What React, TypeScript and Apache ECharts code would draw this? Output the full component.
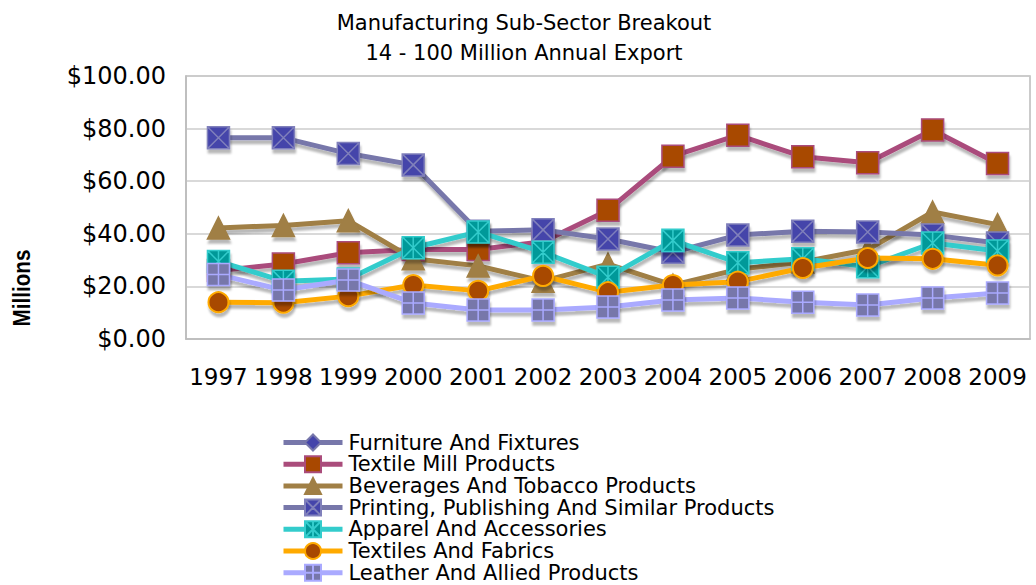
import React, { useEffect, useRef } from "react";
import * as echarts from "echarts";

const years = ["1997", "1998", "1999", "2000", "2001", "2002", "2003", "2004", "2005", "2006", "2007", "2008", "2009"];
const furniture: (number | null)[] = [null, null, null, null, null, null, null, null, null, null, null, null, null];
const textileMill = [26, 28.5, 32.8, 34, 34, 37, 49, 69.5, 77.5, 69.3, 67, 79.5, 66.7];
const beverages = [42.2, 43.2, 45, 30.5, 27.8, 22, 28.5, 20.5, 26.5, 29.3, 34, 48.3, 43.5];
const printing = [76.5, 76.5, 70.5, 66.2, 41, 41.5, 38, 33, 39.5, 41, 40.7, 39.5, 36.5];
const apparel = [29.5, 22, 22.8, 34.7, 40.7, 33, 23.5, 37.5, 29, 30.5, 27.5, 36.5, 33.5];
const textiles = [14, 13.8, 16.3, 20.5, 18.3, 24, 17.8, 20.5, 21.8, 27, 30.8, 30.5, 28];
const leather = [24.5, 18.6, 22.4, 13.7, 11, 11, 12.2, 14.8, 15.6, 14, 12.9, 15.6, 17.5];
const yTicks = [0, 20, 40, 60, 80, 100];

const FONT = "DejaVu Sans";

const shadow = {
  shadowColor: "rgba(0,0,0,0.28)",
  shadowBlur: 2,
  shadowOffsetX: 1,
  shadowOffsetY: 4,
};

function mk(
  name: string,
  data: (number | null)[],
  lineColor: string,
  symbol: string,
  fill: string,
  border: string,
  size: number | number[],
  borderWidth = 1.5
) {
  return {
    name,
    type: "line",
    data,
    symbol,
    symbolSize: size,
    showSymbol: true,
    lineStyle: { color: lineColor, width: 5, ...shadow },
    itemStyle: { color: fill, borderColor: border, borderWidth, ...shadow },
    emphasis: { disabled: true },
  };
}

export default function App() {
  const ref = useRef<HTMLDivElement>(null);
  useEffect(() => {
    if (!ref.current) return;
    const chart = echarts.init(ref.current, undefined, { renderer: "svg" });
    const option = {
      animation: false,
      backgroundColor: "#fff",
      grid: {
        left: 186,
        right: 6,
        top: 76,
        bottom: 246,
        show: true,
        borderColor: "#BBBBBB",
        borderWidth: 1.5,
      },
      xAxis: {
        type: "category",
        data: years,
        boundaryGap: true,
        axisTick: { show: false },
        axisLine: { lineStyle: { color: "#BBBBBB", width: 1.5 } },
        axisLabel: { color: "#000", fontFamily: FONT, fontSize: 23, margin: 26, interval: 0 },
      },
      yAxis: {
        type: "value",
        min: yTicks[0],
        max: yTicks[yTicks.length - 1],
        interval: 20,
        axisLine: { show: true, lineStyle: { color: "#BBBBBB", width: 1.5 } },
        axisTick: { show: false },
        splitLine: { lineStyle: { color: "#CCCCCC", width: 1.5 } },
        axisLabel: {
          color: "#000",
          fontFamily: FONT,
          fontSize: 24,
          margin: 20,
          formatter: (v: number) => "$" + v.toFixed(2),
        },
      },
      legend: {
        orient: "vertical",
        left: 281,
        top: 432,
        height: 240,
        padding: 0,
        itemWidth: 59,
        itemHeight: 20,
        itemGap: 0.7,
        lineStyle: { width: 5 },
        textStyle: {
          color: "#000",
          fontFamily: FONT,
          fontSize: 21,
          lineHeight: 21,
          padding: [0, 0, 0, 1],
        },
        data: [
          "Furniture And Fixtures",
          "Textile Mill Products",
          "Beverages And Tobacco Products",
          "Printing, Publishing And Similar Products",
          "Apparel And Accessories",
          "Textiles And Fabrics",
          "Leather And Allied Products",
        ],
      },
      graphic: [
        {
          type: "text",
          x: 524,
          y: 8,
          style: {
            text: "Manufacturing Sub-Sector Breakout\n14 - 100 Million Annual Export",
            font: `21px '${FONT}'`,
            lineHeight: 30,
            fill: "#000",
            textAlign: "center",
            textVerticalAlign: "top",
          },
        },
        {
          type: "text",
          x: 22,
          y: 288,
          rotation: Math.PI / 2,
          scaleX: 0.86,
          style: {
            text: "Millions",
            font: "bold 24px 'Liberation Sans'",
            fill: "#000",
            textAlign: "center",
            textVerticalAlign: "middle",
          },
        },
      ],
      series: [
        mk("Furniture And Fixtures", furniture, "#7777AA", "diamond", "#4444AA", "#7777AA", 22),
        mk("Textile Mill Products", textileMill, "#AA4C7B", "rect", "#A84800", "#AA4C7B", 22),
        mk("Beverages And Tobacco Products", beverages, "#A07F45", "triangle", "#A07F45", "#A07F45", 22),
        mk(
          "Printing, Publishing And Similar Products",
          printing,
          "#7777AA",
          "path://M0,0H20V20H0Z M0,0L20,20 M20,0L0,20",
          "#4444AA",
          "#8080BB",
          22
        ),
        mk(
          "Apparel And Accessories",
          apparel,
          "#33CCCC",
          "path://M0,0H20V20H0Z M10,0V20 M0,0L20,20 M20,0L0,20",
          "#009999",
          "#33CCCC",
          22
        ),
        mk("Textiles And Fabrics", textiles, "#FFAA00", "circle", "#A84800", "#FFAA00", 20, 2),
        mk(
          "Leather And Allied Products",
          leather,
          "#AAAAFF",
          "path://M0,0H20V20H0Z M10,0V20 M0,10H20",
          "#7777AA",
          "#AAAAFF",
          22
        ),
      ],
    };
    chart.setOption(option as any);
    return () => chart.dispose();
  }, []);
  return (
    <div
      ref={ref}
      style={{ position: "fixed", left: 0, top: 0, width: 1036, height: 585 }}
    />
  );
}
